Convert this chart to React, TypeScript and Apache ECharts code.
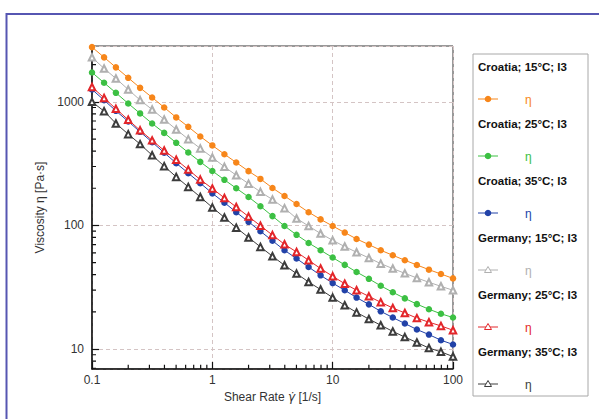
import React, { useEffect, useRef } from "react";
import * as echarts from "echarts";

const shearRate = [0.1, 0.126, 0.158, 0.2, 0.251, 0.316, 0.398, 0.501, 0.631, 0.794, 1, 1.26, 1.58, 2, 2.51, 3.16, 3.98, 5.01, 6.31, 7.94, 10, 12.6, 15.8, 20, 25.1, 31.6, 39.8, 50.1, 63.1, 79.4, 100];

const croatia15 = [2773, 2291, 1901, 1564, 1298, 1085, 901, 748, 628, 525, 444, 377, 323, 275, 238, 201, 173, 149, 128, 112, 99, 87.6, 77.8, 70, 63, 57.4, 52.3, 47.9, 43.9, 40.5, 37.3];
const croatia25 = [1729, 1426, 1183, 970, 806, 668, 561, 466, 389, 327, 276, 234, 200, 170, 143, 119, 99, 84, 72.2, 63, 55, 48, 42, 37, 32.5, 28.8, 25.7, 23.1, 21, 19.3, 18];
const croatia35 = [1260, 1032, 846, 694, 572, 472, 388, 319, 265, 220, 182, 153, 128, 107, 89.8, 75.2, 63, 54, 46.1, 39.5, 34.2, 29.9, 26.1, 23, 20.2, 18, 16.1, 14.4, 13.1, 11.8, 10.9];
const germany15 = [2291, 1862, 1545, 1259, 1033, 867, 720, 598, 499, 420, 355, 298, 255, 218, 187, 162, 138, 114, 99, 86, 75.8, 67.5, 60.7, 54.6, 49.1, 44.8, 41, 37.6, 34.7, 32.2, 29.9];
const germany25 = [1320, 1075, 878, 716, 588, 488, 404, 340, 283, 235, 199, 167, 141, 118, 99.5, 83.6, 70.4, 61, 52.3, 44.8, 38.8, 33.8, 29.9, 26.7, 23.9, 21.5, 19.6, 17.8, 16.5, 15.4, 14.2];
const germany35 = [1000, 841, 669, 548, 455, 370, 302, 247, 205, 170, 140, 116, 96, 80, 67.1, 56.4, 47.6, 40.8, 34.9, 30.3, 26.1, 22.6, 19.8, 17.5, 15.6, 13.9, 12.5, 11.3, 10.2, 9.5, 8.7];

const seriesNames = ["Croatia; 15°C; I3", "Croatia; 25°C; I3", "Croatia; 35°C; I3", "Germany; 15°C; I3", "Germany; 25°C; I3", "Germany; 35°C; I3"];
const seriesData = [croatia15, croatia25, croatia35, germany15, germany25, germany35];
const seriesColors = ["#f7861a", "#3cc043", "#2242a8", "#b0b0b0", "#e3262a", "#3c3c3c"];
const seriesShapes = ["circle", "circle", "circle", "triangle", "triangle", "triangle"];
const legendSymbolText = "η";

const xTicks = [0.1, 1, 10, 100];
const yTicks = [10, 100, 1000];
const yMin = 6.9;
const yMax = 2830;
const xMinorTicks = [0.2, 0.3, 0.4, 0.5, 0.6, 0.7, 0.8, 0.9, 2, 3, 4, 5, 6, 7, 8, 9, 20, 30, 40, 50, 60, 70, 80, 90];
const yMinorTicks = [7, 8, 9, 20, 30, 40, 50, 60, 70, 80, 90, 200, 300, 400, 500, 600, 700, 800, 900, 2000];

const FONT = "'Liberation Sans', Arial, sans-serif";
// tick lengths, expressed as ratios along the log axes (about 4 px)
const X_TICK_RATIO = 1.08;
const Y_TICK_RATIO = 1.08;

export default function App() {
  const ref = useRef<HTMLDivElement>(null);
  useEffect(() => {
    if (!ref.current) return;
    const chart = echarts.init(ref.current, null, { renderer: "svg" });

    const series: any[] = seriesNames.map((name, i) => ({
      name,
      type: "line",
      data: shearRate.map((x, j) => [x, seriesData[i][j]]),
      symbol: seriesShapes[i] === "circle" ? "circle" : "emptyTriangle",
      symbolSize: 6.5,
      showSymbol: true,
      lineStyle: { color: seriesColors[i], width: 1 },
      itemStyle: { color: seriesColors[i], borderColor: seriesColors[i], borderWidth: seriesShapes[i] === "circle" ? 0 : 1.3 },
      z: 2 + i,
    }));

    const xMinorData: any[] = [];
    xMinorTicks.forEach((v) => {
      xMinorData.push([v, yMin * 1.001], [v, yMin * X_TICK_RATIO], "-");
    });
    const yMinorData: any[] = [];
    yMinorTicks.forEach((v) => {
      yMinorData.push([xTicks[0] * 1.001, v], [xTicks[0] * Y_TICK_RATIO, v], "-");
    });
    series.push({
      name: "xminor",
      type: "line",
      silent: true,
      z: 12,
      showSymbol: false,
      symbol: "none",
      connectNulls: false,
      lineStyle: { color: "#111", width: 1.2 },
      data: xMinorData,
    });
    series.push({
      name: "yminor",
      type: "line",
      silent: true,
      z: 12,
      showSymbol: false,
      symbol: "none",
      connectNulls: false,
      lineStyle: { color: "#111", width: 1.2 },
      data: yMinorData,
    });

    const legendEls: any[] = [
      { type: "rect", shape: { x: 473, y: 54, width: 115, height: 342 }, style: { fill: "#fff", stroke: "#a8a8a8", lineWidth: 1 }, z: 0 },
    ];
    seriesNames.forEach((name, i) => {
      const hy = 67 + i * 57;
      const ry = 99 + i * 57;
      legendEls.push({
        type: "text", x: 478, y: hy,
        style: { text: name, fill: "#111", font: `bold 11.5px ${FONT}`, verticalAlign: "middle" },
        z: 1,
      });
      legendEls.push({ type: "line", shape: { x1: 478, y1: ry, x2: 498, y2: ry }, style: { stroke: seriesColors[i], lineWidth: 1 }, z: 1 });
      if (seriesShapes[i] === "circle") {
        legendEls.push({ type: "circle", shape: { cx: 488, cy: ry, r: 3.3 }, style: { fill: seriesColors[i] }, z: 2 });
      } else {
        legendEls.push({ type: "polygon", shape: { points: [[488, ry - 3.5], [491.5, ry + 2.5], [484.5, ry + 2.5]] }, style: { fill: "#fff", stroke: seriesColors[i], lineWidth: 1 }, z: 2 });
      }
      legendEls.push({
        type: "text", x: 525, y: ry + 1,
        style: { text: legendSymbolText, fill: seriesColors[i], font: `12px ${FONT}`, verticalAlign: "middle" },
        z: 2,
      });
    });

    const isPow = (v: number) => {
      const l = Math.log10(v);
      return Math.abs(l - Math.round(l)) < 1e-6;
    };

    chart.setOption({
      animation: false,
      backgroundColor: "#fff",
      grid: { left: 92, top: 46, right: 146, bottom: 50, show: true, borderColor: "#333", borderWidth: 1 },
      xAxis: {
        type: "log",
        logBase: 10,
        min: xTicks[0],
        max: xTicks[xTicks.length - 1],
        name: "Shear Rate {g|γ̇} [1/s]",
        nameLocation: "middle",
        nameGap: 19,
        nameTextStyle: {
          fontFamily: FONT, fontSize: 12, color: "#333",
          rich: { g: { fontFamily: "'DejaVu Sans', sans-serif", fontStyle: "italic", fontSize: 12, color: "#333" } },
        },
        axisLine: { show: true, onZero: false, lineStyle: { color: "#111", width: 1.5 } },
        axisTick: { show: true, inside: true, length: 7, lineStyle: { color: "#111", width: 1.2 } },
        axisLabel: {
          fontFamily: FONT, fontSize: 12, color: "#333", margin: 5,
          formatter: (v: number) => (isPow(v) ? String(+v.toPrecision(6)) : ""),
        },
        splitLine: { show: true, lineStyle: { color: "#d4c4c4", type: [4, 3], width: 1 } },
      },
      yAxis: {
        type: "log",
        logBase: 10,
        min: yMin,
        max: yMax,
        name: "Viscosity η [Pa·s]",
        nameLocation: "middle",
        nameGap: 45,
        nameTextStyle: { fontFamily: FONT, fontSize: 12, color: "#333" },
        axisLine: { show: true, onZero: false, lineStyle: { color: "#111", width: 1.5 } },
        axisTick: { show: true, inside: true, length: 7, lineStyle: { color: "#111", width: 1.2 } },
        axisLabel: {
          fontFamily: FONT, fontSize: 12, color: "#333", margin: 8,
          showMinLabel: false, showMaxLabel: false,
          formatter: (v: number) => (isPow(v) && yTicks.indexOf(Math.round(v)) >= 0 ? String(Math.round(v)) : ""),
        },
        splitLine: { show: true, lineStyle: { color: "#d4c4c4", type: [4, 3], width: 1 } },
      },
      series,
      graphic: [
        { type: "rect", shape: { x: 6.5, y: 14, width: 700, height: 500 }, style: { fill: "none", stroke: "#5656b2", lineWidth: 2 }, z: 0, silent: true },
        ...legendEls,
      ],
    });
    return () => chart.dispose();
  }, []);
  return <div ref={ref} style={{ position: "fixed", left: 0, top: 0, width: 599, height: 419 }} />;
}
